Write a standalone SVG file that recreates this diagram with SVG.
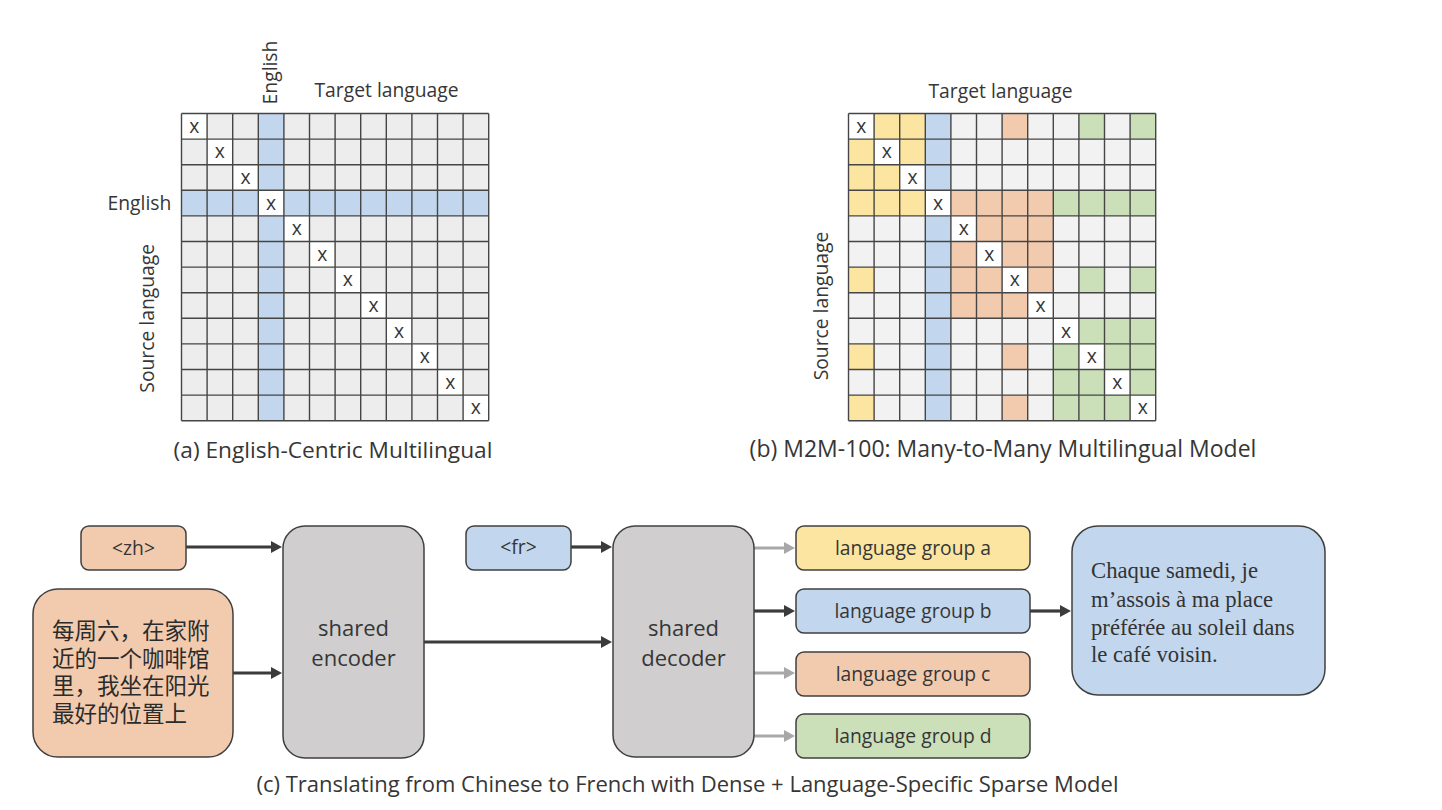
<svg xmlns="http://www.w3.org/2000/svg" xmlns:xlink="http://www.w3.org/1999/xlink" width="1442" height="810" viewBox="0 0 1442 810">
<style>
.t{font-family:"Open Sans","Liberation Sans",sans-serif;fill:#363636}
.lab{font-size:19.3px}
.cap{font-size:22.7px}
.xm{font-size:19.3px;text-anchor:middle}
.box{stroke:#404040;stroke-width:1.5}
.big{font-size:22px;text-anchor:middle}
.grp{font-size:19.3px;text-anchor:middle}
.cjk{font-family:"Noto Sans CJK SC","Noto Sans CJK JP",sans-serif;font-size:22.5px;fill:#2b2b2b}
.fr{font-family:"Liberation Serif","Times New Roman",serif;font-size:22.7px;fill:#333}
.gl{fill:none;stroke:#454545;stroke-width:1.4}
.gray{fill:#ededed}
.grayb{fill:#f2f2f2}
.blue{fill:#c2d7ed}
.yel{fill:#fbe5a1}
.ora{fill:#f2cbaf}
.grn{fill:#cbe0b9}
.wh{fill:#ffffff}
.dark{stroke:#3b3b3b;stroke-width:3.2;fill:none}
.light{stroke:#a8a8a8;stroke-width:3;fill:none}
</style>
<defs>
<marker id="ahd" markerUnits="userSpaceOnUse" markerWidth="12" markerHeight="12" refX="2" refY="6" orient="auto"><path d="M0,0 L11,6 L0,12 z" fill="#3b3b3b"/></marker>
<marker id="ahl" markerUnits="userSpaceOnUse" markerWidth="12" markerHeight="12" refX="2" refY="6" orient="auto"><path d="M0,0 L11,6 L0,12 z" fill="#a8a8a8"/></marker>
<path id="gridlines" class="gl" d="M0 0V307.2M25.6 0V307.2M51.2 0V307.2M76.8 0V307.2M102.4 0V307.2M128 0V307.2M153.6 0V307.2M179.2 0V307.2M204.8 0V307.2M230.4 0V307.2M256 0V307.2M281.6 0V307.2M307.2 0V307.2M0 0H307.2M0 25.6H307.2M0 51.2H307.2M0 76.8H307.2M0 102.4H307.2M0 128H307.2M0 153.6H307.2M0 179.2H307.2M0 204.8H307.2M0 230.4H307.2M0 256H307.2M0 281.6H307.2M0 307.2H307.2"/>
<g id="diag">
<rect class="wh" x="0" y="0" width="25.6" height="25.6"/>
<rect class="wh" x="25.6" y="25.6" width="25.6" height="25.6"/>
<rect class="wh" x="51.2" y="51.2" width="25.6" height="25.6"/>
<rect class="wh" x="76.8" y="76.8" width="25.6" height="25.6"/>
<rect class="wh" x="102.4" y="102.4" width="25.6" height="25.6"/>
<rect class="wh" x="128" y="128" width="25.6" height="25.6"/>
<rect class="wh" x="153.6" y="153.6" width="25.6" height="25.6"/>
<rect class="wh" x="179.2" y="179.2" width="25.6" height="25.6"/>
<rect class="wh" x="204.8" y="204.8" width="25.6" height="25.6"/>
<rect class="wh" x="230.4" y="230.4" width="25.6" height="25.6"/>
<rect class="wh" x="256" y="256" width="25.6" height="25.6"/>
<rect class="wh" x="281.6" y="281.6" width="25.6" height="25.6"/>
<text class="t xm" x="12.8" y="19.3">x</text>
<text class="t xm" x="38.4" y="44.9">x</text>
<text class="t xm" x="64" y="70.5">x</text>
<text class="t xm" x="89.6" y="96.1">x</text>
<text class="t xm" x="115.2" y="121.7">x</text>
<text class="t xm" x="140.8" y="147.3">x</text>
<text class="t xm" x="166.4" y="172.9">x</text>
<text class="t xm" x="192" y="198.5">x</text>
<text class="t xm" x="217.6" y="224.1">x</text>
<text class="t xm" x="243.2" y="249.7">x</text>
<text class="t xm" x="268.8" y="275.3">x</text>
<text class="t xm" x="294.4" y="300.9">x</text>
</g>
</defs>
<rect width="1442" height="810" fill="#ffffff"/>

<g id="grid-a">
<g transform="translate(181.5,113.5)">
<rect class="gray" x="0" y="0" width="307.2" height="307.2"/>
<rect class="blue" x="76.8" y="0" width="25.6" height="307.2"/>
<rect class="blue" x="0" y="76.8" width="307.2" height="25.6"/>
<use xlink:href="#diag" href="#diag"/>
<use xlink:href="#gridlines" href="#gridlines"/>
</g>
<text class="t lab" transform="translate(277,72.5) rotate(-90)" text-anchor="middle">English</text>
<text class="t lab" x="314.5" y="97">Target language</text>
<text class="t lab" x="107.5" y="210">English</text>
<text class="t lab" transform="translate(154,318.3) rotate(-90)" text-anchor="middle">Source language</text>
<text class="t cap" x="333" y="457.5" text-anchor="middle">(a) English-Centric Multilingual</text>
</g>

<g id="grid-b">
<g transform="translate(848.5,113.5)">
<rect class="grayb" x="0" y="0" width="307.2" height="307.2"/>
<rect class="yel" x="0" y="0" width="76.8" height="102.4"/>
<rect class="yel" x="0" y="153.6" width="25.6" height="25.6"/>
<rect class="yel" x="0" y="230.4" width="25.6" height="25.6"/>
<rect class="yel" x="0" y="281.6" width="25.6" height="25.6"/>
<rect class="blue" x="76.8" y="0" width="25.6" height="307.2"/>
<rect class="ora" x="102.4" y="76.8" width="102.4" height="128"/>
<rect class="ora" x="153.6" y="0" width="25.6" height="25.6"/>
<rect class="ora" x="153.6" y="230.4" width="25.6" height="25.6"/>
<rect class="ora" x="153.6" y="281.6" width="25.6" height="25.6"/>
<rect class="grn" x="204.8" y="204.8" width="102.4" height="102.4"/>
<rect class="grn" x="204.8" y="76.8" width="102.4" height="25.6"/>
<rect class="grn" x="230.4" y="0" width="25.6" height="25.6"/>
<rect class="grn" x="281.6" y="0" width="25.6" height="25.6"/>
<rect class="grn" x="230.4" y="153.6" width="25.6" height="25.6"/>
<rect class="grn" x="281.6" y="153.6" width="25.6" height="25.6"/>
<use xlink:href="#diag" href="#diag"/>
<use xlink:href="#gridlines" href="#gridlines"/>
</g>
<text class="t lab" x="928.5" y="98">Target language</text>
<text class="t lab" transform="translate(828,306) rotate(-90)" text-anchor="middle">Source language</text>
<text class="t cap" x="1003" y="457" text-anchor="middle" style="font-size:23px">(b) M2M-100: Many-to-Many Multilingual Model</text>
</g>

<g id="connectors">
<line class="dark" x1="186" y1="547" x2="273" y2="547" marker-end="url(#ahd)"/>
<line class="dark" x1="233" y1="673" x2="273" y2="673" marker-end="url(#ahd)"/>
<line class="dark" x1="424" y1="642" x2="603" y2="642" marker-end="url(#ahd)"/>
<line class="dark" x1="571" y1="547" x2="603" y2="547" marker-end="url(#ahd)"/>
<line class="light" x1="754" y1="548" x2="786" y2="548" marker-end="url(#ahl)"/>
<line class="dark" x1="754" y1="611" x2="786" y2="611" marker-end="url(#ahd)"/>
<line class="light" x1="754" y1="673" x2="786" y2="673" marker-end="url(#ahl)"/>
<line class="light" x1="754" y1="736" x2="786" y2="736" marker-end="url(#ahl)"/>
<line class="dark" x1="1030" y1="611" x2="1062" y2="611" marker-end="url(#ahd)"/>
</g>

<g id="zh-tag">
<rect class="box ora" x="81" y="526" width="105" height="44" rx="8"/>
<text class="t grp" x="133.5" y="554.5">&lt;zh&gt;</text>
</g>

<g id="zh-text">
<rect class="box ora" x="33" y="589" width="200" height="168" rx="25"/>
<text class="cjk"><tspan x="52" y="639">每周六，在家附</tspan><tspan x="52" y="666.5">近的一个咖啡馆</tspan><tspan x="52" y="694">里，我坐在阳光</tspan><tspan x="52" y="721.5">最好的位置上</tspan></text>
</g>

<g id="encoder">
<rect class="box" fill="#d0cece" x="283" y="526" width="141" height="232" rx="22"/>
<text class="t big" x="353.5" y="636">shared</text>
<text class="t big" x="353.5" y="666">encoder</text>
</g>

<g id="fr-tag">
<rect class="box blue" x="466" y="526" width="105" height="44" rx="8"/>
<text class="t grp" x="518.5" y="554">&lt;fr&gt;</text>
</g>

<g id="decoder">
<rect class="box" fill="#d0cece" x="613" y="526" width="141" height="231" rx="22"/>
<text class="t big" x="683.5" y="636">shared</text>
<text class="t big" x="683.5" y="666">decoder</text>
</g>

<g id="group-a">
<rect class="box yel" x="796" y="526" width="234" height="44" rx="8"/>
<text class="t grp" x="913" y="555">language group a</text>
</g>
<g id="group-b">
<rect class="box blue" x="796" y="589" width="234" height="44" rx="8"/>
<text class="t grp" x="913" y="618">language group b</text>
</g>
<g id="group-c">
<rect class="box ora" x="796" y="652" width="234" height="44" rx="8"/>
<text class="t grp" x="913" y="681">language group c</text>
</g>
<g id="group-d">
<rect class="box grn" x="796" y="714" width="234" height="44" rx="8"/>
<text class="t grp" x="913" y="743">language group d</text>
</g>

<g id="fr-output">
<rect class="box blue" x="1072" y="526" width="253" height="169" rx="26"/>
<text class="fr"><tspan x="1091" y="578">Chaque samedi, je</tspan><tspan x="1091" y="606.5">m’assois à ma place</tspan><tspan x="1091" y="635">préférée au soleil dans</tspan><tspan x="1091" y="662">le café voisin.</tspan></text>
</g>

<text class="t cap" x="687.5" y="791.5" text-anchor="middle" style="font-size:22px">(c) Translating from Chinese to French with Dense + Language-Specific Sparse Model</text>
</svg>
